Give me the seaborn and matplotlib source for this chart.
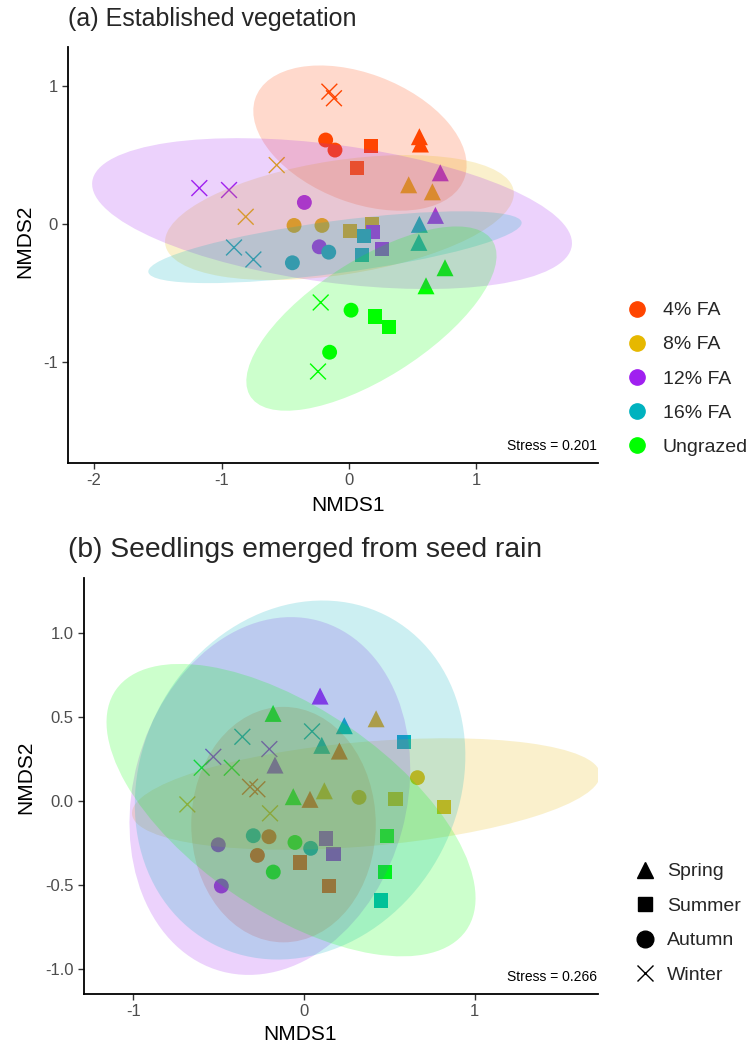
import numpy as np
import pandas as pd
import matplotlib
matplotlib.use("Agg")
import matplotlib.pyplot as plt
import seaborn as sns
from matplotlib.patches import Ellipse
from matplotlib.lines import Line2D

sns.set_theme(style="white")
plt.rcParams["font.family"] = ["Liberation Sans", "DejaVu Sans"]

treatments = ["4% FA", "8% FA", "12% FA", "16% FA", "Ungrazed"]
seasons = ["Spring", "Summer", "Autumn", "Winter"]
colors = ["#FF4500", "#E6B800", "#A020F0", "#00B2BF", "#00FF00"]
season_markers = {"Spring": "^", "Summer": "s", "Autumn": "o", "Winter": "x"}
season_sizes = {"Spring": 150, "Summer": 105, "Autumn": 115, "Winter": 130}

# category columns (8 points per treatment: 2 per season)
pt_treat = [t for t in treatments for _ in range(8)]
pt_season = [s for _ in treatments for s in seasons for _ in range(2)]

# ---- Panel (a): established vegetation ----
a_x = [0.552, 0.560, 0.173, 0.060, -0.183, -0.110, -0.154, -0.118,
       0.468, 0.654, 0.008, 0.178, -0.431, -0.212, -0.567, -0.810,
       0.716, 0.678, 0.191, 0.256, -0.350, -0.233, -1.174, -0.941,
       0.552, 0.548, 0.120, 0.099, -0.444, -0.159, -0.902, -0.750,
       0.753, 0.604, 0.201, 0.316, 0.016, -0.152, -0.222, -0.243]
a_y = [0.632, 0.579, 0.564, 0.407, 0.608, 0.535, 0.959, 0.911,
       0.283, 0.232, -0.053, -0.004, -0.012, -0.012, 0.426, 0.051,
       0.370, 0.061, -0.058, -0.184, 0.155, -0.167, 0.259, 0.245,
       -0.004, -0.135, -0.089, -0.227, -0.283, -0.206, -0.172, -0.259,
       -0.319, -0.450, -0.673, -0.748, -0.627, -0.932, -0.571, -1.072]
# ellipse params per treatment (centre x, centre y, major, minor, angle)
a_ell_cx = [0.086, -0.075, -0.133, -0.110, 0.176]
a_ell_cy = [0.622, 0.045, 0.074, -0.170, -0.688]
a_ell_w = [1.74, 2.76, 3.79, 2.95, 2.21]
a_ell_h = [0.94, 0.83, 1.00, 0.38, 0.87]
a_ell_ang = [-19, 8, -7, 7, 30]
a_stress = "Stress = 0.201"

# ---- Panel (b): seedlings from seed rain ----
b_x = [0.207, 0.035, -0.025, 0.145, -0.205, -0.273, -0.316, -0.273,
       0.422, 0.119, 0.535, 0.820, 0.664, 0.322, -0.199, -0.683,
       0.094, -0.170, 0.129, 0.172, -0.502, -0.484, -0.531, -0.203,
       0.236, 0.104, 0.587, 0.449, -0.297, 0.039, -0.361, 0.047,
       -0.181, -0.063, 0.488, 0.474, -0.053, -0.180, -0.599, -0.423]
b_y = [0.297, 0.010, -0.365, -0.503, -0.212, -0.323, 0.085, 0.070,
       0.489, 0.061, 0.010, -0.034, 0.139, 0.022, -0.073, -0.020,
       0.624, 0.214, -0.222, -0.315, -0.260, -0.505, 0.263, 0.309,
       0.448, 0.331, 0.349, -0.591, -0.206, -0.281, 0.382, 0.414,
       0.521, 0.026, -0.208, -0.424, -0.246, -0.422, 0.198, 0.198]
b_ell_cx = [-0.120, 0.363, -0.200, -0.023, -0.076]
b_ell_cy = [-0.140, 0.042, 0.030, 0.125, -0.054]
b_ell_w = [1.40, 2.75, 2.16, 2.20, 2.50]
b_ell_h = [1.08, 0.62, 1.60, 1.86, 1.20]
b_ell_ang = [90, 5, 75, 63, -35]
b_stress = "Stress = 0.266"

palette = dict(zip(treatments, colors))

fig = plt.figure(figsize=(7.55, 10.5), dpi=100)
ax_a = fig.add_axes([68 / 755, 1 - 463 / 1050, 530 / 755, 416 / 1050])
ax_b = fig.add_axes([84 / 755, 1 - 994 / 1050, 514 / 755, 416 / 1050])


def draw_panel(ax, xs, ys, ecx, ecy, ew, eh, eang, stress):
    df = pd.DataFrame({"NMDS1": xs, "NMDS2": ys,
                       "Treatment": pt_treat, "Season": pt_season})
    for s in seasons:
        sub = df[df["Season"] == s]
        kw = dict(linewidth=1.0) if s == "Winter" else dict(linewidth=0)
        sns.scatterplot(data=sub, x="NMDS1", y="NMDS2", hue="Treatment",
                        hue_order=treatments, palette=palette,
                        marker=season_markers[s], s=season_sizes[s],
                        legend=False, ax=ax, zorder=2, **kw)
    for i, t in enumerate(treatments):
        e = Ellipse((ecx[i], ecy[i]), ew[i], eh[i], angle=eang[i],
                    facecolor=colors[i], alpha=0.2, edgecolor="none",
                    zorder=3)
        ax.add_patch(e)
    ax.text(0.998, 0.025, stress, transform=ax.transAxes, ha="right",
            va="bottom", fontsize=10, color="black")
    for sp in ["top", "right"]:
        ax.spines[sp].set_visible(False)
    for sp in ["left", "bottom"]:
        ax.spines[sp].set_color("black")
        ax.spines[sp].set_linewidth(1.3)
    ax.tick_params(axis="both", which="both", length=4, width=1,
                   color="#333333", labelcolor="#4D4D4D", labelsize=12,
                   direction="out", bottom=True, left=True)
    ax.set_xlabel("NMDS1", fontsize=15, color="black")
    ax.set_ylabel("NMDS2", fontsize=15, color="black")


draw_panel(ax_a, a_x, a_y, a_ell_cx, a_ell_cy, a_ell_w, a_ell_h,
           a_ell_ang, a_stress)
ax_a.set_xlim(-2.204, 1.953)
ax_a.set_ylim(-1.736, 1.283)
ax_a.set_xticks([-2, -1, 0, 1])
ax_a.set_xticklabels(["-2", "-1", "0", "1"])
ax_a.set_yticks([-1, 0, 1])
ax_a.set_yticklabels(["-1", "0", "1"])
ax_a.xaxis.set_label_coords(0.528, -0.08)
ax_a.yaxis.set_label_coords(-0.063, 0.534)

draw_panel(ax_b, b_x, b_y, b_ell_cx, b_ell_cy, b_ell_w, b_ell_h,
           b_ell_ang, b_stress)
ax_b.set_xlim(-1.288, 1.721)
ax_b.set_ylim(-1.147, 1.326)
ax_b.set_xticks([-1, 0, 1])
ax_b.set_xticklabels(["-1", "0", "1"])
ax_b.set_yticks([-1.0, -0.5, 0.0, 0.5, 1.0])
ax_b.set_yticklabels(["-1.0", "-0.5", "0.0", "0.5", "1.0"])
ax_b.xaxis.set_label_coords(0.42, -0.075)
ax_b.yaxis.set_label_coords(-0.095, 0.52)

fig.text(68 / 755, 1 - 19 / 1050, "(a) Established vegetation",
         fontsize=18, ha="left", va="center")
fig.text(68 / 755, 1 - 550 / 1050, "(b) Seedlings emerged from seed rain",
         fontsize=20.3, ha="left", va="center")

h_a = [Line2D([], [], marker="o", ls="", color=c, markersize=11)
       for c in colors]
fig.legend(h_a, treatments, loc="upper left",
           bbox_to_anchor=(618 / 755, 1 - 292 / 1050), frameon=False,
           fontsize=14, handlelength=1.0, handletextpad=0.8,
           labelspacing=0.85, borderpad=0)

h_b = [Line2D([], [], marker=season_markers[s], ls="", color="black",
              markersize=12 if s != "Summer" else 10,
              markeredgewidth=1.0) for s in seasons]
fig.legend(h_b, seasons, loc="upper left",
           bbox_to_anchor=(626 / 755, 1 - 853 / 1050), frameon=False,
           fontsize=14, handlelength=1.0, handletextpad=0.6,
           labelspacing=0.87, borderpad=0)

fig.savefig("out.png", dpi=100)
